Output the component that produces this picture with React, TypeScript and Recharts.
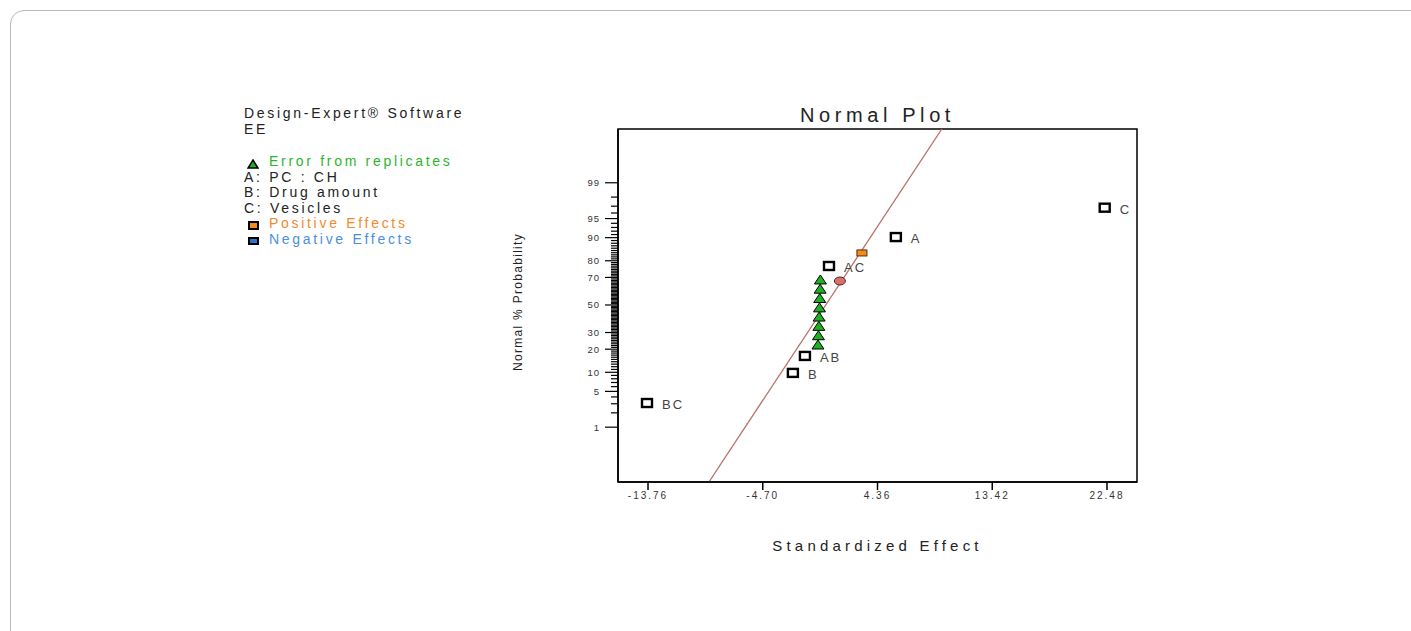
import { ScatterChart, Scatter, XAxis, YAxis, ReferenceLine, ReferenceArea } from "recharts";

// labelled effects (squares)
const effectLabels = ["BC", "B", "AB", "AC", "A", "C"];
const effectX = [-13.84, -2.32, -1.37, 0.53, 5.81, 22.3];
const effectP = [3.1, 9.8, 16.6, 77.1, 90.2, 96.8];

// error from replicates (green triangles)
const errorX = [-0.34, -0.3, -0.27, -0.25, -0.22, -0.2, -0.17, -0.15];
const errorP = [22.3, 27.9, 34.2, 40.9, 47.8, 54.9, 61.8, 68.3];

// unlabelled effects
const positiveX = [3.13];
const positiveP = [83.9];
const otherX = [1.39];
const otherP = [67.6];

// fitted line (x, z)
const lineX = [-8.95, 9.44];
const lineZ = [-3.37, 3.35];

const xTicks = [-13.76, -4.7, 4.36, 13.42, 22.48];
const majorPct = [1, 5, 10, 20, 30, 50, 70, 80, 90, 95, 99];
const minorPct = Array.from({ length: 99 }, (_, i) => i + 1);

const xDomain = [-16.13, 24.85];
const zDomain = [-3.37, 3.35];

// inverse normal CDF (Acklam)
function probit(p: number) {
  const a = [-39.69683028665376, 220.9460984245205, -275.9285104469687, 138.357751867269, -30.66479806614716, 2.506628277459239];
  const b = [-54.47609879822406, 161.5858368580409, -155.6989798598866, 66.80131188771972, -13.28068155353971];
  const c = [-0.007784894002430293, -0.3223964580411365, -2.400758277161838, -2.549732539343734, 4.374664141464968, 2.938163982698783];
  const d = [0.007784695709041462, 0.3224671290700398, 2.445134137142996, 3.754408661907416];
  const pl = 0.02425;
  if (p < pl) {
    const q = Math.sqrt(-2 * Math.log(p));
    return (((((c[0] * q + c[1]) * q + c[2]) * q + c[3]) * q + c[4]) * q + c[5]) / ((((d[0] * q + d[1]) * q + d[2]) * q + d[3]) * q + 1);
  }
  if (p > 1 - pl) {
    const q = Math.sqrt(-2 * Math.log(1 - p));
    return -(((((c[0] * q + c[1]) * q + c[2]) * q + c[3]) * q + c[4]) * q + c[5]) / ((((d[0] * q + d[1]) * q + d[2]) * q + d[3]) * q + 1);
  }
  const q = p - 0.5;
  const r = q * q;
  return ((((((a[0] * r + a[1]) * r + a[2]) * r + a[3]) * r + a[4]) * r + a[5]) * q) / (((((b[0] * r + b[1]) * r + b[2]) * r + b[3]) * r + b[4]) * r + 1);
}

const z = (pct: number) => probit(pct / 100);

const effectData = effectLabels.map((label, i) => ({ label, x: effectX[i], z: z(effectP[i]) }));
const errorData = errorX.map((x, i) => ({ x, z: z(errorP[i]) }));
const positiveData = positiveX.map((x, i) => ({ x, z: z(positiveP[i]) }));
const otherData = otherX.map((x, i) => ({ x, z: z(otherP[i]) }));

const yTicks = minorPct.map(z);
const tickPct = new Map(minorPct.map((p) => [z(p).toFixed(6), p]));

const FONT = "'Liberation Sans', Arial, sans-serif";

const YTick = (props: any) => {
  const { x, y, payload } = props;
  const pct = tickPct.get(Number(payload.value).toFixed(6));
  const major = pct !== undefined && majorPct.includes(pct);
  if (!major) return <line x1={x - 7} x2={x} y1={y} y2={y} stroke="#000" strokeWidth={1.2} />;
  return (
    <g>
      <line x1={x - 13} x2={x} y1={y} y2={y} stroke="#000" strokeWidth={1.2} />
      <text x={x - 18} y={y + 3.5} textAnchor="end" fontSize={9.5} fill="#333" fontFamily={FONT} letterSpacing={1}>
        {pct}
      </text>
    </g>
  );
};

const EffectShape = (p: any) => (
  <g>
    <rect x={p.cx - 5} y={p.cy - 4} width={10} height={8} fill="#fff" stroke="#000" strokeWidth={2.4} />
    <text x={p.cx + 15} y={p.cy + 6} fontSize={13} fill="#444" fontFamily={FONT} letterSpacing={2}>
      {p.payload.label}
    </text>
  </g>
);

const Triangle = (p: any) => (
  <path d={`M${p.cx},${p.cy - 5} L${p.cx + 6},${p.cy + 4} L${p.cx - 6},${p.cy + 4} Z`} fill="#1fb01f" stroke="#000" strokeWidth={1} />
);

const PositiveShape = (p: any) => (
  <rect x={p.cx - 5} y={p.cy - 3} width={10} height={6} fill="#f58a1f" stroke="#5a2a00" strokeWidth={1} />
);

const OtherShape = (p: any) => (
  <ellipse cx={p.cx} cy={p.cy} rx={5.5} ry={4} fill="#d9706e" stroke="#5a2020" strokeWidth={1} />
);

const legendLines: { text: string; color: string; icon?: "tri" | "pos" | "neg" }[] = [
  { text: "Design-Expert® Software", color: "#222" },
  { text: "EE", color: "#222" },
  { text: "", color: "#222" },
  { text: "Error from replicates", color: "#2cb52c", icon: "tri" },
  { text: "A: PC : CH", color: "#222" },
  { text: "B: Drug amount", color: "#222" },
  { text: "C: Vesicles", color: "#222" },
  { text: "Positive Effects", color: "#f28a30", icon: "pos" },
  { text: "Negative Effects", color: "#4a8fe0", icon: "neg" },
];

export default function App() {
  return (
    <div style={{ position: "absolute", left: 0, top: 0, width: 1411, height: 631, overflow: "hidden", background: "#fff" }}>
      <div
        style={{
          position: "absolute",
          left: 10,
          top: 10,
          width: 1430,
          height: 650,
          border: "1px solid #b8b8b8",
          borderRadius: 14,
        }}
      />
      <div style={{ position: "absolute", left: 244, top: 106, fontFamily: FONT, fontSize: 14, lineHeight: "15.5px", letterSpacing: 2.7, whiteSpace: "nowrap" }}>
        {legendLines.map((l, i) => (
          <div key={i} style={{ color: l.color, height: i === 2 ? 17 : 15.5, position: "relative", paddingLeft: l.icon ? 25 : 0 }}>
            {l.icon === "tri" && (
              <svg width={12} height={10} style={{ position: "absolute", left: 3, top: 5 }}>
                <path d="M6,1 L11,9 L1,9 Z" fill="#1fb01f" stroke="#000" strokeWidth={1.5} />
              </svg>
            )}
            {l.icon === "pos" && (
              <svg width={12} height={10} style={{ position: "absolute", left: 4, top: 5 }}>
                <rect x={1} y={1} width={9} height={7} fill="#f58a1f" stroke="#000" strokeWidth={2} />
              </svg>
            )}
            {l.icon === "neg" && (
              <svg width={12} height={10} style={{ position: "absolute", left: 4, top: 5 }}>
                <rect x={1} y={1} width={9} height={6} fill="#2f6fd0" stroke="#000" strokeWidth={2} />
              </svg>
            )}
            {l.text}
          </div>
        ))}
      </div>
      <div style={{ position: "absolute", left: 618, width: 519, top: 104, textAlign: "center", fontFamily: FONT, fontSize: 20, letterSpacing: 4.6, color: "#222" }}>
        Normal Plot
      </div>
      <div style={{ position: "absolute", left: 618, width: 519, top: 537, textAlign: "center", fontFamily: FONT, fontSize: 15, letterSpacing: 4.2, color: "#222" }}>
        Standardized Effect
      </div>
      <div
        style={{
          position: "absolute",
          left: 518,
          top: 302,
          transform: "translate(-50%, -50%) rotate(-90deg)",
          whiteSpace: "nowrap",
          fontFamily: FONT,
          fontSize: 12,
          letterSpacing: 1.3,
          color: "#222",
        }}
      >
        Normal % Probability
      </div>
      <div style={{ position: "absolute", left: 0, top: 0 }}>
        <ScatterChart width={1411} height={631} margin={{ left: 578, right: 274, top: 129, bottom: 119 }}>
          <XAxis
            type="number"
            dataKey="x"
            domain={xDomain}
            ticks={xTicks}
            interval={0}
            allowDataOverflow
            height={30}
            tickSize={8}
            tickLine={{ stroke: "#000", strokeWidth: 1.5 }}
            axisLine={{ stroke: "#000", strokeWidth: 1.5 }}
            tickFormatter={(v: number) => v.toFixed(2)}
            tick={{ fontSize: 10, fill: "#333", fontFamily: FONT, letterSpacing: 2 }}
          />
          <YAxis
            type="number"
            dataKey="z"
            domain={zDomain}
            ticks={yTicks}
            interval={0}
            allowDataOverflow
            width={40}
            tickSize={0}
            tickMargin={0}
            tickLine={false}
            axisLine={{ stroke: "#000", strokeWidth: 1.5 }}
            tick={<YTick />}
          />
          <ReferenceArea x1={xDomain[0]} x2={xDomain[1]} y1={zDomain[0]} y2={zDomain[1]} fill="none" stroke="#000" strokeWidth={1.5} />
          <ReferenceLine
            segment={[
              { x: lineX[0], y: lineZ[0] },
              { x: lineX[1], y: lineZ[1] },
            ]}
            stroke="#b8726c"
            strokeWidth={1.3}
            ifOverflow="hidden"
          />
          <Scatter data={errorData} shape={<Triangle />} isAnimationActive={false} />
          <Scatter data={otherData} shape={<OtherShape />} isAnimationActive={false} />
          <Scatter data={positiveData} shape={<PositiveShape />} isAnimationActive={false} />
          <Scatter data={effectData} shape={<EffectShape />} isAnimationActive={false} />
        </ScatterChart>
      </div>
    </div>
  );
}
